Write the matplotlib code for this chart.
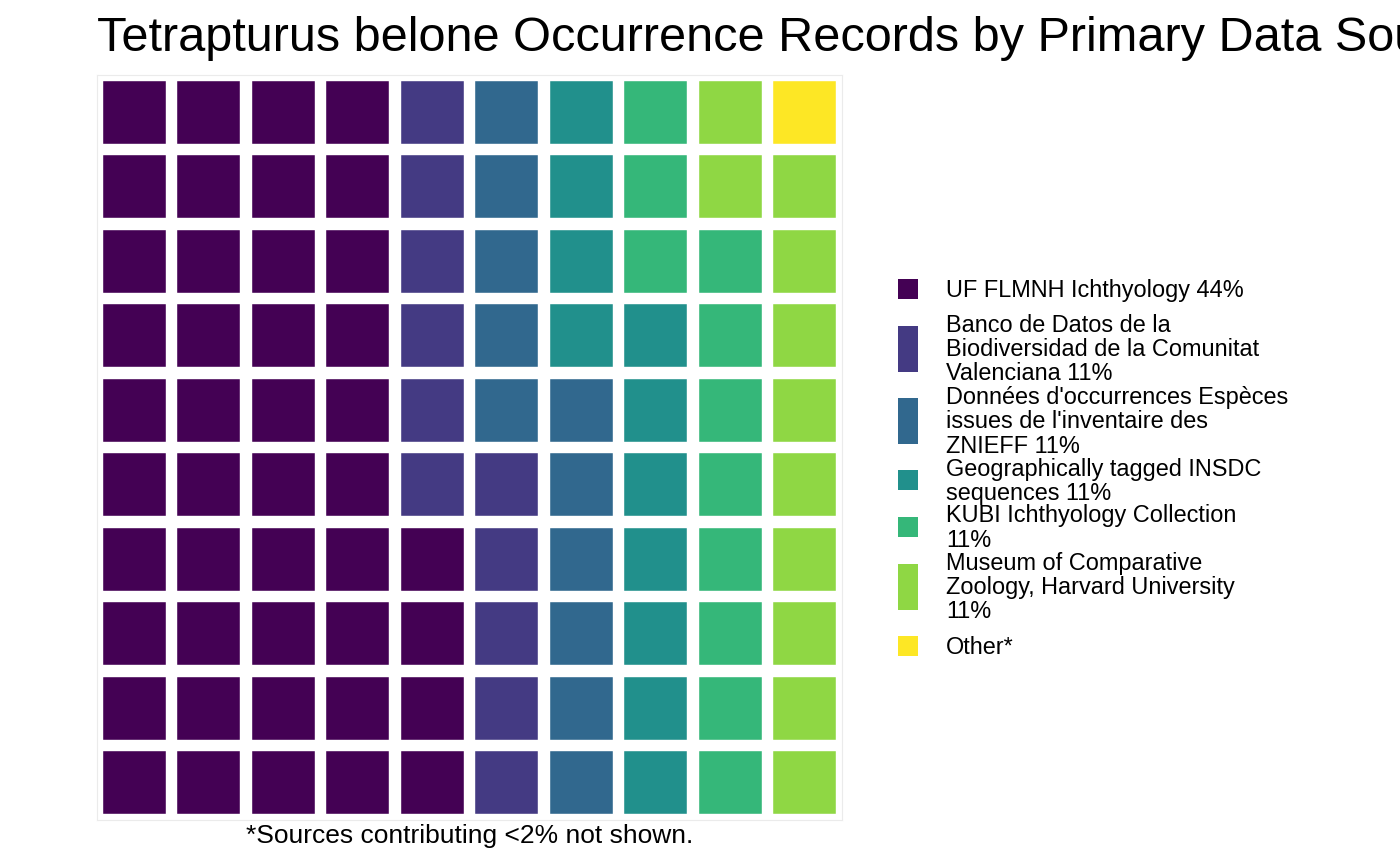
import matplotlib
matplotlib.use("Agg")
import matplotlib.pyplot as plt
from matplotlib.patches import Rectangle

# ---- data ----
labels = [
    "UF FLMNH Ichthyology 44%",
    "Banco de Datos de la\nBiodiversidad de la Comunitat\nValenciana 11%",
    "Données d'occurrences Espèces\nissues de l'inventaire des\nZNIEFF 11%",
    "Geographically tagged INSDC\nsequences 11%",
    "KUBI Ichthyology Collection\n11%",
    "Museum of Comparative\nZoology, Harvard University\n11%",
    "Other*",
]
counts = [44, 11, 11, 11, 11, 11, 1]
colors = ["#440154", "#443A83", "#31688E", "#21908C", "#35B779", "#8FD744", "#FDE725"]
title = "Tetrapturus belone Occurrence Records by Primary Data Source"
caption = "*Sources contributing <2% not shown."
n_rows = 10
n_cols = 10

plt.rcParams['font.family'] = ['Liberation Sans', 'DejaVu Sans']

W, H = 1400, 865
fig = plt.figure(figsize=(W / 100, H / 100), dpi=100)

# panel: x 97..842, y 75..820 (pixels from top)
px0, px1, py0, py1 = 97, 842, 75, 820
ax = fig.add_axes([px0 / W, 1 - py1 / H, (px1 - px0) / W, (py1 - py0) / H])
ax.set_xlim(0.5, n_cols + 0.5)
ax.set_ylim(0.5, n_rows + 0.5)
ax.set_xticks([])
ax.set_yticks([])
for s in ax.spines.values():
    s.set_color("#ebebeb")
    s.set_linewidth(0.8)

cell = 0.84
idx = 0
for cat, (n, c) in enumerate(zip(counts, colors)):
    for _ in range(n):
        col = idx // n_rows + 1
        row = idx % n_rows + 1
        ax.add_patch(Rectangle((col - cell / 2, row - cell / 2), cell, cell,
                               facecolor=c, edgecolor="white", linewidth=0.3))
        idx += 1

# title and caption
fig.text(px0 / W, 1 - 51 / H, title, fontsize=35, ha="left", va="baseline")
fig.text((px0 + px1) / 2 / W, 1 - 836 / H, caption, fontsize=19, ha="center", va="center")

# legend (manual, ggplot-like)
key_x = 898
key_w = 20
text_x = 946
gap = 26.5
y = 279
for lab, c in zip(labels, colors):
    nl = lab.count("\n") + 1
    kh = 46 if nl >= 3 else 20
    fig.patches.append(Rectangle((key_x / W, 1 - (y + kh) / H), key_w / W, kh / H,
                                 transform=fig.transFigure, facecolor=c, edgecolor="none"))
    fig.text(text_x / W, 1 - (y + kh / 2 + 1) / H, lab, fontsize=16.9, ha="left", va="center",
             linespacing=1.06)
    y += kh + gap

fig.savefig("out.png", dpi=100)
